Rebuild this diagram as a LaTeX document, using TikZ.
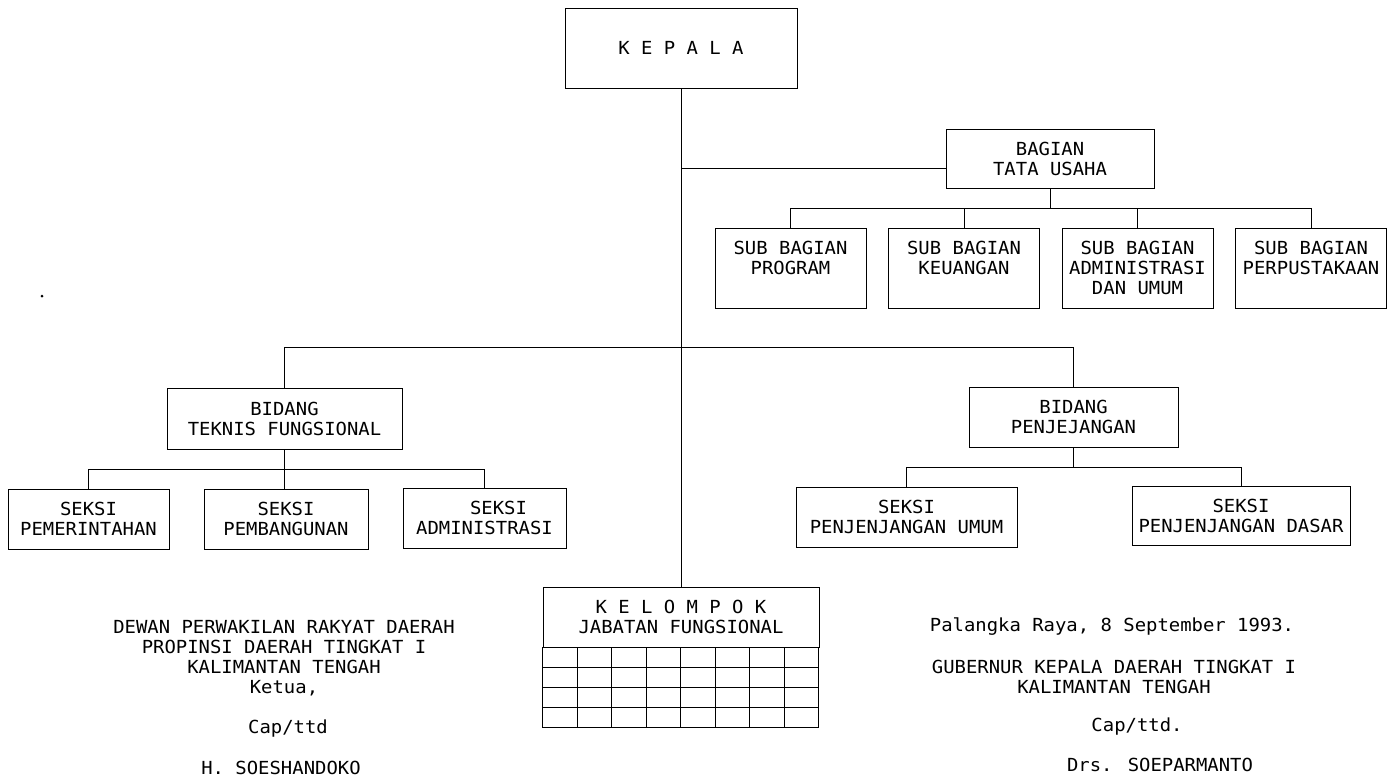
\documentclass[tikz,border=0pt]{standalone}
\usepackage{fontspec}
\setmainfont{DejaVu Sans Mono}[FakeStretch=1.05]
\begin{document}
\begin{tikzpicture}[x=1pt,y=-1pt,
  every node/.style={font=\fontsize{18}{20}\selectfont},
  box/.style={draw, line width=1pt, inner sep=2pt, align=center},
  conn/.style={line width=1pt},
  txt/.style={align=center, inner sep=0pt}]
\useasboundingbox (0,0) rectangle (1387,780);

% boxes
\node[box, minimum width=232, minimum height=80] (kepala) at (681,48) {K E P A L A};
\node[box, minimum width=208, minimum height=59] (bagian) at (1050,159) {BAGIAN\\TATA USAHA};
\node[box, minimum width=151, minimum height=80] (sb1) at (790.5,268) {SUB BAGIAN\\PROGRAM\\~};
\node[box, minimum width=151, minimum height=80] (sb2) at (964,268) {SUB BAGIAN\\KEUANGAN\\~};
\node[box, minimum width=151, minimum height=80] (sb3) at (1137.5,268) {SUB BAGIAN\\ADMINISTRASI\\DAN UMUM};
\node[box, minimum width=151, minimum height=80] (sb4) at (1311,268) {SUB BAGIAN\\PERPUSTAKAAN\\~};
\node[box, minimum width=235, minimum height=61] (bidt) at (284.5,418.5) {BIDANG\\TEKNIS FUNGSIONAL};
\node[box, minimum width=209, minimum height=60] (bidp) at (1073.5,417) {BIDANG\\PENJEJANGAN};
\node[box, minimum width=161, minimum height=60] (s1) at (88.5,519) {SEKSI\\PEMERINTAHAN};
\node[box, minimum width=164, minimum height=60] (s2) at (286,519) {SEKSI\\PEMBANGUNAN};
\node[box, minimum width=163, minimum height=60] (s3) at (484.5,518) {\hspace*{28pt}SEKSI\\ADMINISTRASI};
\node[box, minimum width=221, minimum height=60] (pu) at (906.5,517) {SEKSI\\PENJENJANGAN UMUM};
\node[box, minimum width=218, minimum height=59] (pd) at (1241,515.5) {SEKSI\\PENJENJANGAN DASAR};
\node[box, minimum width=276, minimum height=60] (kel) at (681,617) {K E L O M P O K\\JABATAN FUNGSIONAL};

% grid under kelompok
\draw[conn] (kel.south west) rectangle ++(276,80);
\foreach \i in {1,...,7} \draw[conn] ([xshift=\i*34.5pt]kel.south west) -- ++(0,80);
\foreach \j in {1,2,3} \draw[conn] ([yshift=-\j*20pt]kel.south west) -- ++(276,0);

% connectors
\coordinate (jt) at (681,168);
\coordinate (busS) at (0,208);
\coordinate (busM) at (0,347);
\coordinate (busL) at (0,469);
\coordinate (busR) at (0,467);
\draw[conn] (kepala.south) -- (kel.north);
\draw[conn] (jt) -- (jt -| bagian.west);
\draw[conn] (bagian.south) -- (bagian.south |- busS);
\draw[conn] (sb1.north |- busS) -- (sb4.north |- busS);
\foreach \n in {sb1,sb2,sb3,sb4} \draw[conn] (\n.north |- busS) -- (\n.north);
\draw[conn] (bidt.north |- busM) -- (bidp.north |- busM);
\draw[conn] (bidt.north |- busM) -- (bidt.north);
\draw[conn] (bidp.north |- busM) -- (bidp.north);
\draw[conn] (bidt.south) -- (bidt.south |- s2.north);
\draw[conn] (s1.north |- busL) -- (s3.north |- busL);
\draw[conn] (s1.north |- busL) -- (s1.north);
\draw[conn] (s3.north |- busL) -- (s3.north);
\draw[conn] (bidp.south) -- (bidp.south |- busR);
\draw[conn] (pu.north |- busR) -- (pd.north |- busR);
\draw[conn] (pu.north |- busR) -- (pu.north);
\draw[conn] (pd.north |- busR) -- (pd.north);

% stray dot
\fill (42,296) circle (1.5);

% signatures left
\node[txt] (dprd) at (284,658.5) {DEWAN PERWAKILAN RAKYAT DAERAH\\PROPINSI DAERAH TINGKAT I\\KALIMANTAN TENGAH\\Ketua,};
\node[txt] (cap1) at (288,729) {Cap/ttd};
\node[txt] (nama1) at (281,768) {H. SOESHANDOKO};

% signatures right
\node[txt] (tgl) at (1112,627) {Palangka Raya, 8 September 1993.};
\node[txt] (gub) at (1114,676.5) {GUBERNUR KEPALA DAERAH TINGKAT I\\KALIMANTAN TENGAH};
\node[txt] (cap2) at (1137,727) {Cap/ttd.};
\node[txt] (nama2) at (1160,765) {Drs. SOEPARMANTO};
\end{tikzpicture}
\end{document}
